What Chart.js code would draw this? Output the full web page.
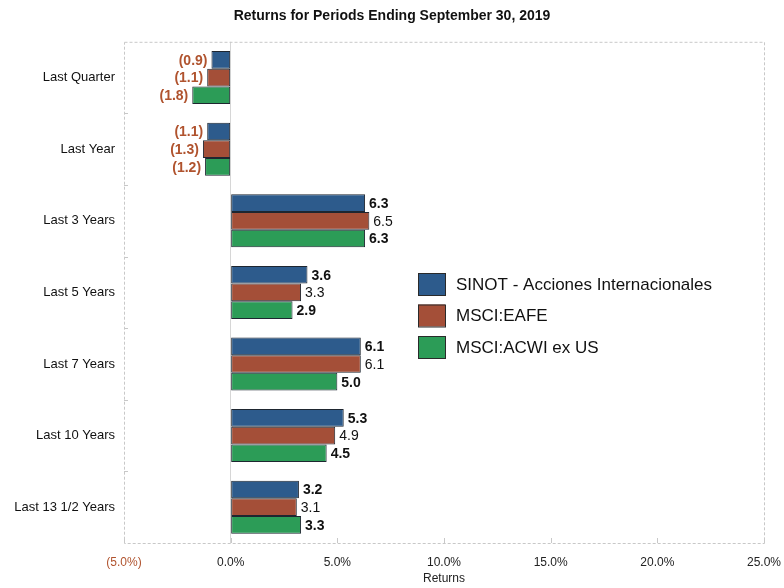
<!DOCTYPE html>
<html>
<head>
<meta charset="utf-8">
<script src="https://cdn.jsdelivr.net/npm/chart.js@4"></script>
<style>
html,body{margin:0;padding:0;background:#fff;}
#wrap{width:784px;height:588px;position:relative;}
</style>
</head>
<body>
<div id="wrap"><canvas id="c" width="784" height="588"></canvas></div>
<script>
const categories = ["Last Quarter","Last Year","Last 3 Years","Last 5 Years","Last 7 Years","Last 10 Years","Last 13 1/2 Years"];
const seriesNames = ["SINOT - Acciones Internacionales","MSCI:EAFE","MSCI:ACWI ex US"];
const sinot = [-0.9,-1.1,6.3,3.6,6.1,5.3,3.2];
const eafe  = [-1.1,-1.3,6.5,3.3,6.1,4.9,3.1];
const acwi  = [-1.8,-1.2,6.3,2.9,5.0,4.5,3.3];
const xTicks = [-5,0,5,10,15,20,25];

const colors = ["#2d5b8c","#a44f38","#2c9c57"];
const labelWeights = ["bold","normal","bold"];
const NEG = "#b0532e";
const FONT = "Arial, 'Liberation Sans', Helvetica, sans-serif";

const fmtVal = v => v < 0 ? "(" + Math.abs(v).toFixed(1) + ")" : v.toFixed(1);
const fmtTick = v => v < 0 ? "(" + Math.abs(v).toFixed(1) + "%)" : v.toFixed(1) + "%";

const frame = {
  id: "frame",
  beforeDatasetsDraw(chart) {
    const {ctx, chartArea: a} = chart;
    ctx.save();
    ctx.strokeStyle = "#c8c8c8";
    ctx.lineWidth = 1;
    ctx.setLineDash([3,2]);
    ctx.beginPath();
    ctx.moveTo(a.left + 0.5, a.top + 0.5); ctx.lineTo(a.right + 0.5, a.top + 0.5);
    ctx.lineTo(a.right + 0.5, a.bottom + 0.5); ctx.lineTo(a.left + 0.5, a.bottom + 0.5);
    ctx.closePath();
    ctx.stroke();
    ctx.setLineDash([]);
    const xs = chart.scales.x;
    xTicks.forEach(t => {
      const px = Math.round(xs.getPixelForValue(t)) + 0.5;
      ctx.beginPath(); ctx.moveTo(px, a.bottom); ctx.lineTo(px, a.bottom - 5); ctx.stroke();
    });
    const band = (a.bottom - a.top) / categories.length;
    for (let i = 1; i < categories.length; i++) {
      const py = Math.round(a.top + band * i) + 0.5;
      ctx.beginPath(); ctx.moveTo(a.left, py); ctx.lineTo(a.left + 4, py); ctx.stroke();
    }
    ctx.restore();
  }
};

const valueLabels = {
  id: "valueLabels",
  afterDatasetsDraw(chart) {
    const ctx = chart.ctx;
    ctx.save();
    ctx.textBaseline = "middle";
    chart.data.datasets.forEach((ds, di) => {
      const meta = chart.getDatasetMeta(di);
      meta.data.forEach((el, i) => {
        const v = ds.data[i];
        ctx.font = (v < 0 ? "bold" : labelWeights[di]) + " 14px " + FONT;
        if (v < 0) {
          ctx.fillStyle = NEG; ctx.textAlign = "right";
          ctx.fillText(fmtVal(v), el.x - 4, el.y + 1);
        } else {
          ctx.fillStyle = "#111"; ctx.textAlign = "left";
          ctx.fillText(fmtVal(v), el.x + 4, el.y + 1);
        }
      });
    });
    ctx.restore();
  }
};

const innerLegend = {
  id: "innerLegend",
  afterDraw(chart) {
    const ctx = chart.ctx;
    ctx.save();
    ctx.font = "17px " + FONT;
    ctx.textBaseline = "middle";
    ctx.textAlign = "left";
    chart.data.datasets.forEach((ds, i) => {
      const cy = 284 + i * 31.5;
      ctx.fillStyle = ds.backgroundColor;
      ctx.fillRect(418, cy - 11, 27, 22);
      ctx.strokeStyle = "#2a2a2a"; ctx.lineWidth = 1;
      ctx.strokeRect(418.5, cy - 10.5, 27, 22);
      ctx.fillStyle = "#111";
      ctx.fillText(ds.label, 456, cy + 1);
    });
    ctx.restore();
  }
};

const datasets = [sinot, eafe, acwi].map((d, i) => ({
  label: seriesNames[i],
  data: d,
  backgroundColor: colors[i],
  borderColor: "#1e2630",
  borderWidth: 1,
  borderSkipped: false,
  categoryPercentage: 0.74,
  barPercentage: 1.0
}));

new Chart(document.getElementById("c"), {
  type: "bar",
  data: { labels: categories, datasets },
  options: {
    indexAxis: "y",
    responsive: false,
    animation: false,
    devicePixelRatio: 1,
    layout: { padding: { left: 0, right: 0, top: 0, bottom: 0 } },
    plugins: {
      legend: { display: false },
      tooltip: { enabled: false },
      title: {
        display: true,
        text: "Returns for Periods Ending September 30, 2019",
        color: "#111",
        font: { family: FONT, size: 14, weight: "bold" },
        padding: { top: 8, bottom: 17 }
      }
    },
    scales: {
      x: {
        min: -5, max: 25,
        afterBuildTicks: s => { s.ticks = xTicks.map(v => ({ value: v })); },
        afterFit: s => { s.height = 45; s.paddingLeft = 0; s.paddingRight = 20; },
        grid: {
          drawTicks: false,
          color: c => (c.tick && c.tick.value === 0) ? "#d6d6d6" : "rgba(0,0,0,0)"
        },
        border: { display: false },
        ticks: {
          padding: 12,
          color: c => (c.tick && c.tick.value < 0) ? NEG : "#222",
          font: { family: FONT, size: 12 },
          callback: v => fmtTick(v),
          maxRotation: 0
        },
        title: {
          display: true, text: "Returns", color: "#222",
          font: { family: FONT, size: 12 },
          padding: { top: 0, bottom: 2 }
        }
      },
      y: {
        afterFit: s => { s.width = 124; },
        grid: { display: false, drawTicks: false },
        border: { display: false },
        ticks: {
          padding: 9,
          color: "#111",
          font: { family: FONT, size: 13 }
        }
      }
    }
  },
  plugins: [frame, valueLabels, innerLegend]
});
</script>
</body>
</html>
